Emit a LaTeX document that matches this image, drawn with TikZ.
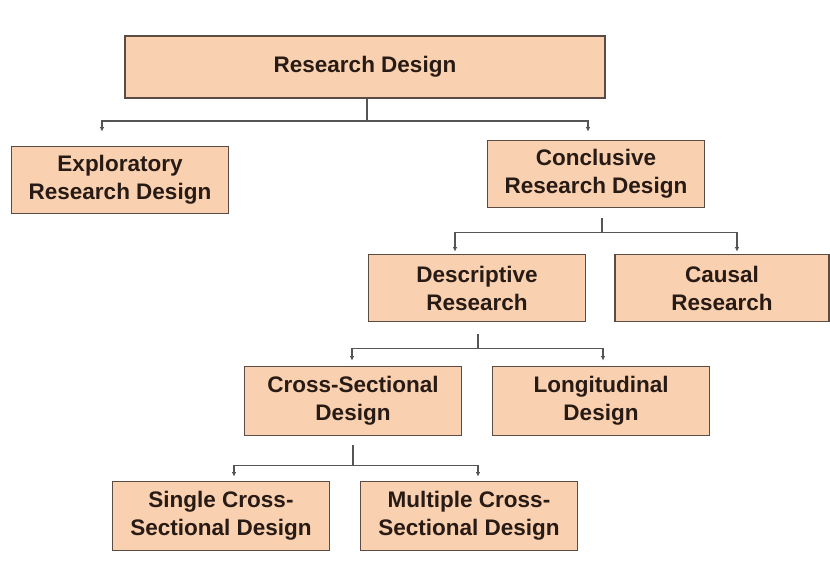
\documentclass[tikz,border=0pt]{standalone}
\usepackage{fontspec}
\setmainfont{Liberation Sans}
\usetikzlibrary{arrows.meta}
\definecolor{boxfill}{RGB}{249,209,176}
\definecolor{boxline}{RGB}{90,76,68}
\definecolor{linkgray}{RGB}{85,85,85}
\definecolor{textdark}{RGB}{40,26,20}
\begin{document}
\begin{tikzpicture}[x=1pt,y=1pt]

    \tikzset{
      box/.style={
        draw=boxline,
        fill=boxfill,
        line width=1.7pt,
        inner sep=0pt,
        minimum width=217pt,
        minimum height=67pt,
        align=center,
        text=textdark,
        font=\fontsize{22.5}{28}\selectfont\bfseries,
      },
      link/.style={
        draw=linkgray,
        line width=1.7pt,
        -{Latex[length=4.5pt,width=4.5pt]},
      },
      stem/.style={
        draw=linkgray,
        line width=1.7pt,
      },
    }
    \useasboundingbox (0,0) rectangle (830,-568);
    \fill[white] (0,0) rectangle (830,-568);

	\node[box, minimum width=480pt, minimum height=62pt] (rd) at (365,-67) {Research Design};
	\node[box] (ex) at (120,-180) {Exploratory\\Research Design};
	\node[box] (co) at (596,-174) {Conclusive\\Research Design};
	\node[box] (de) at (477,-288) {Descriptive\\Research};
	\node[box, minimum width=214pt] (ca) at (722,-288) {Causal\\Research};
	\node[box, minimum height=69pt] (cs) at (353,-401) {Cross-Sectional\\Design};
	\node[box, minimum height=69pt] (lo) at (601,-401) {Longitudinal\\Design};
	\node[box, minimum height=69pt] (si) at (221,-516) {Single Cross-\\Sectional Design};
	\node[box, minimum height=69pt] (mu) at (469,-516) {Multiple Cross-\\Sectional Design};

	\coordinate (rdbus) at ([xshift=2pt,yshift=-22pt]rd.south);
	\draw[stem] ([xshift=2pt]rd.south) -- (rdbus);
	\draw[link] (rdbus) -| ([xshift=-18pt,yshift=14pt]ex.north);
	\draw[link] (rdbus) -| ([xshift=-8pt,yshift=8pt]co.north);

	\coordinate (cobus) at ([xshift=6pt,yshift=-24pt]co.south);
	\draw[stem] ([xshift=6pt,yshift=-10pt]co.south) -- (cobus);
	\draw[link] (cobus) -| ([xshift=-22pt,yshift=2pt]de.north);
	\draw[link] (cobus) -| ([xshift=15pt,yshift=2pt]ca.north);

	\coordinate (debus) at ([xshift=1pt,yshift=-26pt]de.south);
	\draw[stem] ([xshift=1pt,yshift=-12pt]de.south) -- (debus);
	\draw[link] (debus) -| ([xshift=-1pt,yshift=5pt]cs.north);
	\draw[link] (debus) -| ([xshift=2pt,yshift=5pt]lo.north);

	\coordinate (csbus) at ([yshift=-29pt]cs.south);
	\draw[stem] ([yshift=-9pt]cs.south) -- (csbus);
	\draw[link] (csbus) -| ([xshift=13pt,yshift=4pt]si.north);
	\draw[link] (csbus) -| ([xshift=9pt,yshift=4pt]mu.north);

\end{tikzpicture}
\end{document}
